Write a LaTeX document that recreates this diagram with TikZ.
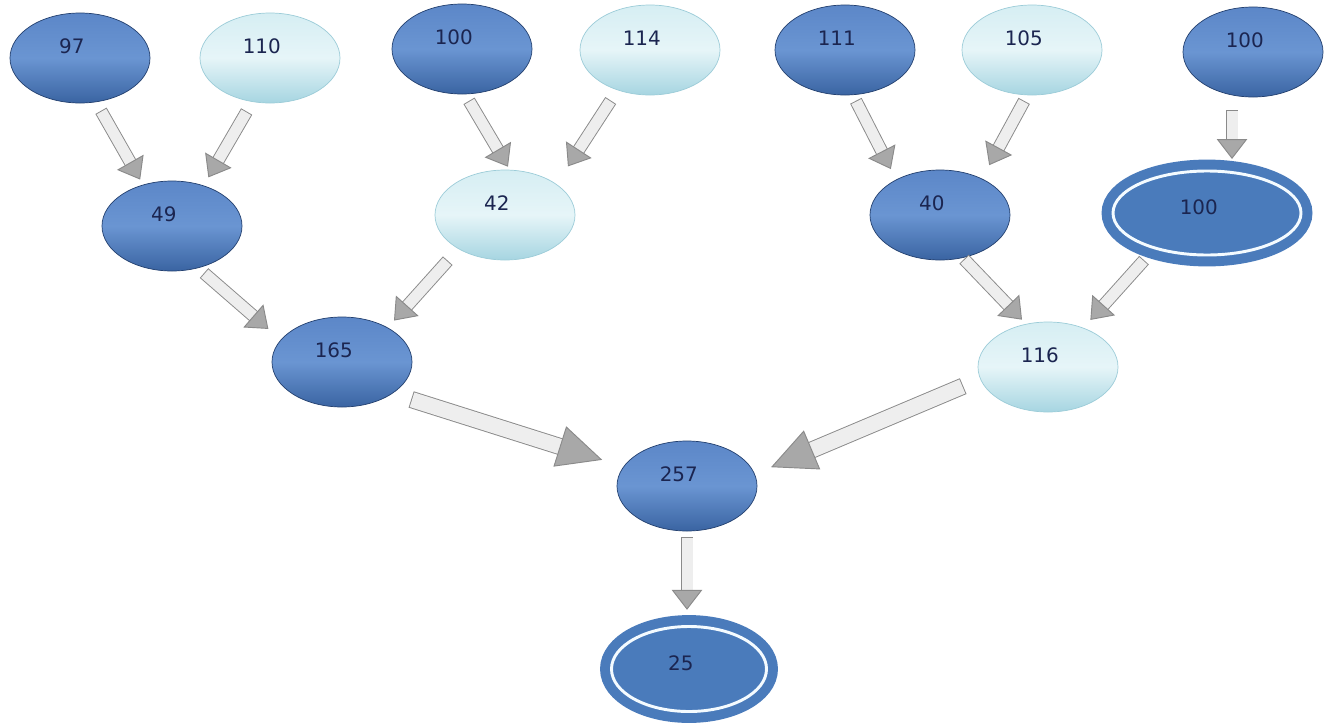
\documentclass[tikz,border=0pt]{standalone}
\usepackage{fontspec}
\setsansfont{DejaVu Sans}
\usetikzlibrary{shapes.geometric,arrows.meta}
\definecolor{darktop}{HTML}{5C87C8}
\definecolor{darkmid}{HTML}{6A95D2}
\definecolor{darkbot}{HTML}{3A64A2}
\definecolor{darkedge}{HTML}{23406F}
\definecolor{lighttop}{HTML}{D6EEF3}
\definecolor{lightmid}{HTML}{E6F5F8}
\definecolor{lightbot}{HTML}{A6D5E1}
\definecolor{lightedge}{HTML}{9CCCD8}
\definecolor{ringblue}{HTML}{4A7BBB}
\definecolor{ringwhite}{HTML}{F4FBFF}
\definecolor{numtext}{HTML}{1B2550}
\definecolor{arrowedge}{HTML}{8A8A8A}
\definecolor{arrowfill}{HTML}{EEEEEE}
\definecolor{arrowhead}{HTML}{A8A8A8}
\begin{document}
\begin{tikzpicture}[x=0.03cm,y=-0.03cm]
    \tikzstyle{every node}+=[inner sep=0pt, font=\sffamily\fontsize{17}{20}\selectfont, text=numtext, text height=12pt, text depth=20pt, execute at end node={\hspace{14pt}}]
    \tikzstyle{dark}=[ellipse, minimum width=4.2cm, minimum height=2.7cm, draw=darkedge, line width=0.6pt, top color=darktop, bottom color=darkbot, middle color=darkmid]
    \tikzstyle{light}=[ellipse, minimum width=4.2cm, minimum height=2.7cm, draw=lightedge, line width=0.6pt, top color=lighttop, bottom color=lightbot, middle color=lightmid]
    \tikzstyle{ring}=[ellipse, fill=ringblue, draw=ringblue, line width=8.5pt, double=ringwhite, double distance=2.5pt, text depth=9pt]
    \tikzstyle{blk}=[draw=arrowedge, line width=0.8pt, line cap=rect, double=arrowfill, double distance=9.4pt, -{Triangle[length=17pt, width=26pt, fill=arrowhead, line width=0.8pt]}]
    \tikzstyle{bigblk}=[draw=arrowedge, line width=0.8pt, line cap=rect, double=arrowfill, double distance=13pt, -{Triangle[length=38pt, width=36pt, fill=arrowhead, line width=0.8pt]}]
    \useasboundingbox (0,0) rectangle (1338,726);
    \node[dark] (n97) at (80,58) {97};
    \node[light] (n110) at (270,58) {110};
    \node[dark] (n100a) at (462,49) {100};
    \node[light] (n114) at (650,50) {114};
    \node[dark] (n111) at (845,50) {111};
    \node[light] (n105) at (1032,50) {105};
    \node[dark] (n100c) at (1253,52) {100};
    \node[dark] (n49) at (172,226) {49};
    \node[light] (n42) at (505,215) {42};
    \node[dark] (n40) at (940,215) {40};
    \node[ring, minimum width=5.64cm, minimum height=2.52cm] (n100d) at (1207,213) {100};
    \node[dark] (n165) at (342,362) {165};
    \node[light] (n116) at (1048,367) {116};
    \node[dark] (n257) at (687,486) {257};
    \node[ring, minimum width=4.65cm, minimum height=2.55cm] (n25) at (689,669) {25};
    \coordinate (c100) at ([xshift=-0.63cm]n100c.south);
    \draw[blk, shorten <=14pt, shorten >=5pt] (n97.-70) -- (n49.125);
    \draw[blk, shorten <=15pt, shorten >=8pt] (n110.-112) -- (n49.52);
    \draw[blk, shorten <=12pt, shorten >=3pt] (n100a.-86) -- (n42.84);
    \draw[blk, shorten <=16pt, shorten >=18pt] (n114.-129) -- (n42.31);
    \draw[blk, shorten <=11pt, shorten >=10pt] (n111.-80) -- (n40.141);
    \draw[blk, shorten <=11pt, shorten >=13pt] (n105.-96) -- (n40.41);
    \draw[blk, shorten <=16pt, shorten >=6pt] (c100) -- (c100 |- n100d.north);
    \draw[blk, shorten <=12pt, shorten >=14pt] (n49.-58) -- (n165.160);
    \draw[blk, shorten <=19pt, shorten >=8pt] (n42.-144) -- (n165.37);
    \draw[blk, shorten <=7pt, shorten >=5pt] (n40.-62) -- (n116.117);
    \draw[blk, shorten <=15pt, shorten >=9pt] (n100d.-145) -- (n116.48);
    \draw[bigblk, shorten <=24pt, shorten >=19pt] (n165.-32) -- (n257.163);
    \draw[bigblk, shorten <=23pt, shorten >=15pt] (n116.-170) -- (n257.10);
    \draw[blk, shorten <=10pt, shorten >=10pt] (n257) -- (n257 |- n25.north);
\end{tikzpicture}
\end{document}
